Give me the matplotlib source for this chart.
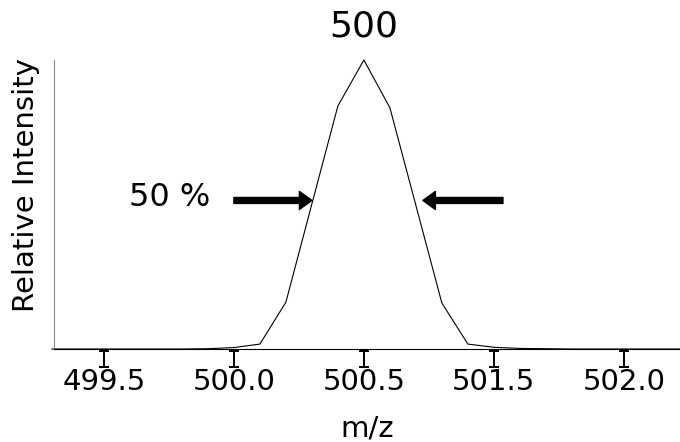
import matplotlib
matplotlib.use('Agg')
import matplotlib.pyplot as plt
import matplotlib.transforms as mtransforms
from matplotlib.path import Path

# peak profile, sampled every 0.1 m/z
mz = [499.3, 499.4, 499.5, 499.6, 499.7, 499.8, 499.9, 500.0, 500.1, 500.2,
      500.3, 500.4, 500.5, 500.6, 500.7, 500.8, 500.9, 501.0, 501.1, 501.2,
      501.3, 501.4, 501.5, 501.6, 501.7, 501.8]
intensity = [0.0, 0.0, 0.0, 0.0, 0.0, 0.0, 0.001, 0.005, 0.017, 0.162,
             0.502, 0.841, 1.0, 0.835, 0.497, 0.159, 0.017, 0.006, 0.002, 0.001,
             0.0, 0.0, 0.0, 0.0, 0.0, 0.0]

tick_pos = [499.5, 500.0, 500.5, 501.0, 501.5]
tick_labels = ['499.5', '500.0', '500.5', '501.5', '502.0']

peak_label = '500'
peak_mz = 500.5
half_max = 0.514
fwhm_left = (500.0, 500.30)    # arrow tail, tip
fwhm_right = (501.035, 500.727)
half_label_mz = 499.754

fig = plt.figure(figsize=(6.8, 4.42), dpi=100)
ax = fig.add_axes([54 / 680, 93 / 442, 626 / 680, 289 / 442])

ax.plot(mz, intensity, color='black', linewidth=0.8, clip_on=False)
ax.set_xlim(499.308, 501.716)
ax.set_ylim(0, 1.0)

ax.spines['top'].set_visible(False)
ax.spines['right'].set_visible(False)
ax.spines['left'].set_color('#888888')
ax.spines['left'].set_linewidth(0.8)
ax.spines['bottom'].set_color('black')
ax.spines['bottom'].set_linewidth(0.8)

ax.set_yticks([])
ax.set_xticks(tick_pos, tick_labels)
ax.tick_params(axis='x', length=0, pad=14, labelsize=21)

# serif "I" shaped tick marks hanging under the axis
i_mark = Path([(-0.34, 0.5), (0.34, 0.5), (0, 0.5), (0, -0.5),
               (-0.34, -0.5), (0.34, -0.5)],
              [Path.MOVETO, Path.LINETO, Path.MOVETO, Path.LINETO,
               Path.MOVETO, Path.LINETO])
trans = mtransforms.blended_transform_factory(ax.transData, ax.transAxes)
off = mtransforms.offset_copy(trans, fig=fig, x=0, y=-7.5, units='points')
ax.plot(tick_pos, [0] * len(tick_pos), linestyle='none', marker=i_mark,
        markersize=11.5, markeredgewidth=1.4, color='black',
        transform=off, clip_on=False)

ax.set_xlabel('m/z', fontsize=21, va='center')
ax.xaxis.set_label_coords(0.5, -0.275)
ax.set_ylabel('Relative Intensity', fontsize=21, va='center')
ax.yaxis.set_label_coords(-0.0447, 0.567)

ax.annotate(peak_label, xy=(peak_mz, 1.0), xytext=(0, 24),
            textcoords='offset points', ha='center', va='center',
            fontsize=26, annotation_clip=False)

ax.text(half_label_mz, half_max + 0.01, '50 %', ha='center', va='center',
        fontsize=23)

arrow = dict(facecolor='black', edgecolor='black', width=4.3,
             headwidth=13, headlength=9, shrink=0)
ax.annotate('', xy=(fwhm_left[1], half_max), xytext=(fwhm_left[0], half_max),
            arrowprops=arrow)
ax.annotate('', xy=(fwhm_right[1], half_max), xytext=(fwhm_right[0], half_max),
            arrowprops=arrow)

fig.savefig('out.png', dpi=100)
